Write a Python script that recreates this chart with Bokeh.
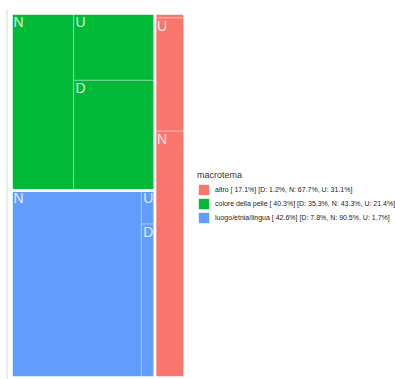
from bokeh.plotting import figure
from bokeh.models import Range1d, ColumnDataSource, Legend, LegendItem
from bokeh.core.properties import value
from bokeh.embed import file_html
from bokeh.resources import INLINE

# ---- data ----
groups = ["altro", "colore della pelle", "luogo/etnia/lingua"]
group_pct = [17.1, 40.3, 42.6]
sub_labels = ["D", "N", "U"]
sub_pct = {
    "altro": [1.2, 67.7, 31.1],
    "colore della pelle": [35.3, 43.3, 21.4],
    "luogo/etnia/lingua": [7.8, 90.5, 1.7],
}
colors = ["#F8766D", "#00BA38", "#619CFF"]
legend_title = "macrotema"

# ---- layout (page-pixel coordinates) ----
X0, X1, Y0, Y1 = 11.0, 184.0, 13.0, 377.0
W, H = X1 - X0, Y1 - Y0

def pct(g, lab):
    return sub_pct[g][sub_labels.index(lab)]

group_rects = {}
# altro: vertical strip at the right
wa = W * group_pct[0] / sum(group_pct)
group_rects["altro"] = (X1 - wa, X1, Y0, Y1)
# others stacked vertically in the left part
rest = group_pct[1] + group_pct[2]
hc = H * group_pct[1] / rest
group_rects["colore della pelle"] = (X0, X1 - wa, Y0, Y0 + hc)
group_rects["luogo/etnia/lingua"] = (X0, X1 - wa, Y0 + hc, Y1)

cells = []  # (group, label, l, r, t, b)
for g in groups[1:]:
    l, r, t, b = group_rects[g]
    wn = (r - l) * pct(g, "N") / 100.0
    cells.append((g, "N", l, l + wn, t, b))
    rem = pct(g, "U") + pct(g, "D")
    hu = (b - t) * pct(g, "U") / rem
    cells.append((g, "U", l + wn, r, t, t + hu))
    cells.append((g, "D", l + wn, r, t + hu, b))
# altro: stacked D, U, N top to bottom
l, r, t, b = group_rects["altro"]
yy = t
for lab in ["D", "U", "N"]:
    h = (b - t) * pct("altro", lab) / 100.0
    cells.append(("altro", lab, l, r, yy, yy + h))
    yy += h

p = figure(width=395, height=379, output_backend="svg", toolbar_location=None,
           x_range=Range1d(0, 395), y_range=Range1d(379, 0),
           min_border=0, min_border_left=0, min_border_right=0,
           min_border_top=0, min_border_bottom=0)
p.axis.visible = False
p.grid.visible = False
p.outline_line_color = None
p.background_fill_color = "white"

# left thin line
p.segment(x0=[6.5], x1=[6.5], y0=[9], y1=[379], line_color="#d9d9d9", line_width=1)

items = []
for g, c in zip(groups, colors):
    l, r, t, b = group_rects[g]
    rr = p.quad(left=[l], right=[r], top=[t], bottom=[b], fill_color=c, line_color=None)
    items.append(LegendItem(label="%s [ %.1f%%] [D: %.1f%%, N: %.1f%%, U: %.1f%%]" % (
        g, group_pct[groups.index(g)], pct(g, "D"), pct(g, "N"), pct(g, "U")), renderers=[rr]))

src = ColumnDataSource(dict(
    l=[c[2] for c in cells], r=[c[3] for c in cells],
    t=[c[4] for c in cells], b=[c[5] for c in cells],
    lab=[c[1] for c in cells]))
p.quad(left="l", right="r", top="t", bottom="b", source=src, fill_color=None,
       line_color="white", line_alpha=0.3, line_width=1)

for g in groups:
    l, r, t, b = group_rects[g]
    p.quad(left=[l], right=[r], top=[t], bottom=[b], fill_color=None,
           line_color="white", line_width=2.5)

lab_cells = [c for c in cells if (c[5] - c[4]) > 14 and (c[3] - c[2]) > 10]
p.text(x=[c[2] for c in lab_cells], y=[c[4] for c in lab_cells],
       text=[c[1] for c in lab_cells], x_offset=2, y_offset=0,
       text_baseline="top", text_align="left",
       text_font=value("Liberation Sans"), text_font_size="14px",
       text_color="white", text_alpha=0.85)

legend = Legend(items=items, location=(197, 155), title=legend_title,
                title_text_font_size="9px", title_text_font="Liberation Sans",
                title_text_font_style="normal", title_text_color="#333333",
                label_text_font_size="7px", label_text_font="Liberation Sans",
                label_text_color="#222222",
                glyph_width=13, glyph_height=13, label_height=13, spacing=1,
                padding=0, margin=0, border_line_color=None,
                background_fill_alpha=0, label_standoff=5, title_standoff=3)
p.add_layout(legend, "center")

open("out.html", "w").write(file_html(p, INLINE))
